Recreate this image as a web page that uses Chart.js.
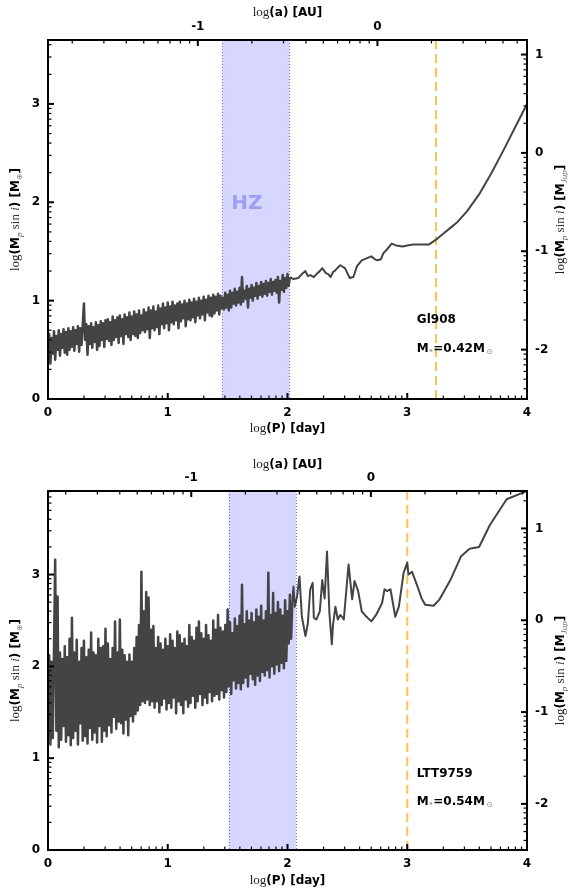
<!DOCTYPE html>
<html><head><meta charset="utf-8">
<script src="https://cdn.jsdelivr.net/npm/chart.js@4.4.1/dist/chart.umd.min.js"></script>
<style>
body{margin:0;background:#fff;width:568px;height:892px;overflow:hidden;position:relative}
.w{position:absolute;left:0;width:568px;height:446px}
</style></head><body>
<div class="w" style="top:0"><canvas id="c1" width="568" height="446"></canvas></div>
<div class="w" style="top:446px"><canvas id="c2" width="568" height="446"></canvas></div>
<script>
// ---- shared period grid of the densely sampled part (log P [day]) ----
const gridLogP = [
0.00,0.01,0.02,0.03,0.04,0.05,0.06,0.07,0.08,0.09,
0.10,0.11,0.12,0.13,0.14,0.15,0.16,0.17,0.18,0.19,
0.20,0.21,0.22,0.23,0.24,0.25,0.26,0.27,0.28,0.29,
0.30,0.31,0.32,0.33,0.34,0.35,0.36,0.37,0.38,0.39,
0.40,0.41,0.42,0.43,0.44,0.45,0.46,0.47,0.48,0.49,
0.50,0.51,0.52,0.53,0.54,0.55,0.56,0.57,0.58,0.59,
0.60,0.61,0.62,0.63,0.64,0.65,0.66,0.67,0.68,0.69,
0.70,0.71,0.72,0.73,0.74,0.75,0.76,0.77,0.78,0.79,
0.80,0.81,0.82,0.83,0.84,0.85,0.86,0.87,0.88,0.89,
0.90,0.91,0.92,0.93,0.94,0.95,0.96,0.97,0.98,0.99,
1.00,1.01,1.02,1.03,1.04,1.05,1.06,1.07,1.08,1.09,
1.10,1.11,1.12,1.13,1.14,1.15,1.16,1.17,1.18,1.19,
1.20,1.21,1.22,1.23,1.24,1.25,1.26,1.27,1.28,1.29,
1.30,1.31,1.32,1.33,1.34,1.35,1.36,1.37,1.38,1.39,
1.40,1.41,1.42,1.43,1.44,1.45,1.46,1.47,1.48,1.49,
1.50,1.51,1.52,1.53,1.54,1.55,1.56,1.57,1.58,1.59,
1.60,1.61,1.62,1.63,1.64,1.65,1.66,1.67,1.68,1.69,
1.70,1.71,1.72,1.73,1.74,1.75,1.76,1.77,1.78,1.79,
1.80,1.81,1.82,1.83,1.84,1.85,1.86,1.87,1.88,1.89,
1.90,1.91,1.92,1.93,1.94,1.95,1.96,1.97,1.98,1.99,
2.00,2.01,2.02,2.03,2.04];

// ---- Gl908: log(Mp sin i) [M_earth] ----
const gl908DenseM = [
0.42,0.66,0.36,0.62,0.46,0.69,0.40,0.64,0.50,0.70,
0.44,0.66,0.52,0.71,0.47,0.68,0.45,0.72,0.50,0.69,
0.53,0.73,0.49,0.70,0.56,0.74,0.48,0.72,0.55,0.75,
0.97,0.60,0.76,0.45,0.74,0.56,0.77,0.52,0.73,0.58,
0.78,0.50,0.75,0.54,0.79,0.60,0.77,0.53,0.80,0.61,
0.81,0.59,0.78,0.55,0.84,0.60,0.80,0.63,0.83,0.57,
0.85,0.64,0.81,0.56,0.86,0.66,0.83,0.63,0.88,0.60,
0.84,0.66,0.89,0.64,0.86,0.62,0.90,0.67,0.85,0.70,
0.91,0.68,0.88,0.71,0.93,0.62,0.90,0.72,0.94,0.70,
0.89,0.73,0.95,0.66,0.92,0.76,0.97,0.72,0.93,0.77,
0.98,0.70,0.94,0.78,0.99,0.76,0.95,0.80,0.97,0.72,
0.99,0.79,0.96,0.82,1.00,0.74,0.97,0.81,1.01,0.80,
0.98,0.83,1.02,0.78,0.99,0.85,1.03,0.82,1.00,0.86,
1.04,0.80,1.01,0.88,1.05,0.85,1.03,0.84,1.06,0.87,
1.04,0.90,1.07,0.86,1.05,0.92,1.03,0.91,1.08,0.93,
1.06,0.90,1.10,0.93,1.08,0.97,1.12,0.95,1.09,0.98,
1.13,0.96,1.24,0.99,1.10,1.02,1.15,0.93,1.12,1.03,
1.16,1.00,1.13,1.05,1.18,1.02,1.15,1.06,1.19,1.04,
1.17,1.07,1.20,1.05,1.18,1.09,1.22,1.06,1.19,1.10,
1.21,1.08,1.24,0.98,1.20,1.11,1.26,1.09,1.23,1.13,
1.27,1.15,1.24];
const gl908TailP = [2.05,2.09,2.12,2.15,2.17,2.19,2.22,2.25,2.27,2.29,2.32,2.34,2.36,2.38,2.40,2.44,2.48,2.50,2.52,2.55,2.58,2.62,2.66,2.70,2.73,2.75,2.78,2.80,2.83,2.87,2.91,2.96,3.00,3.05,3.11,3.18,3.24,3.30,3.36,3.42,3.50,3.60,3.70,3.80,3.90,4.00];
const gl908TailM = [1.22,1.23,1.27,1.30,1.25,1.26,1.24,1.28,1.30,1.33,1.28,1.27,1.24,1.29,1.31,1.36,1.33,1.28,1.23,1.24,1.35,1.41,1.43,1.45,1.42,1.41,1.42,1.48,1.52,1.58,1.56,1.55,1.56,1.57,1.57,1.57,1.62,1.68,1.74,1.80,1.91,2.08,2.29,2.52,2.76,3.00];

// ---- LTT9759: log(Mp sin i) [M_earth] ----
const ltt9759DenseM = [
1.45,2.12,1.15,2.05,1.22,2.18,3.16,1.30,2.76,1.12,
2.15,1.20,2.08,1.35,2.22,1.18,2.10,1.25,2.30,1.14,
2.53,1.22,2.15,1.30,2.29,1.15,2.05,1.38,2.20,1.19,
2.28,1.24,2.10,1.16,2.18,1.33,2.37,1.20,2.15,1.28,
2.12,1.17,2.30,1.35,2.20,1.18,2.22,1.30,2.41,1.24,
2.25,1.36,2.08,1.28,2.20,1.45,2.49,1.32,2.15,1.40,
2.51,1.38,2.18,1.27,2.12,1.42,2.05,1.25,2.13,1.46,
2.05,1.40,2.20,1.48,2.32,1.52,2.45,1.58,3.03,1.62,
2.60,1.60,2.81,1.64,2.75,1.58,2.40,1.62,2.44,1.55,
2.20,1.62,2.32,1.50,2.25,1.58,2.18,1.65,2.30,1.53,
2.22,1.60,2.35,1.55,2.28,1.66,2.20,1.49,2.38,1.62,
2.34,1.58,2.25,1.49,2.30,1.64,2.22,1.56,2.45,1.60,
2.32,1.68,2.28,1.55,2.42,1.62,2.49,1.70,2.36,1.58,
2.30,1.66,2.45,1.60,2.34,1.72,2.28,1.62,2.50,1.68,
2.40,1.70,2.56,1.64,2.42,1.74,2.38,1.66,2.45,1.72,
2.62,1.78,2.48,1.70,2.36,1.85,2.52,1.76,2.44,1.82,
2.55,1.75,2.89,1.82,2.46,1.88,2.60,1.78,2.50,1.92,
2.58,1.86,2.48,1.80,2.62,1.90,2.54,1.84,2.66,1.94,
2.50,1.90,2.60,1.96,3.02,1.88,2.56,2.00,2.80,1.92,
2.58,2.02,2.70,1.95,2.62,2.04,2.55,1.98,2.72,2.06,
2.60,2.25,2.78,2.30,2.70];
const ltt9759TailP = [2.05,2.06,2.08,2.10,2.12,2.15,2.17,2.19,2.21,2.22,2.24,2.27,2.29,2.31,2.33,2.35,2.37,2.38,2.40,2.42,2.44,2.46,2.47,2.51,2.54,2.56,2.59,2.62,2.66,2.70,2.74,2.79,2.81,2.83,2.86,2.90,2.93,2.97,3.00,3.01,3.04,3.08,3.12,3.15,3.22,3.27,3.33,3.36,3.45,3.52,3.60,3.69,3.83,4.00];
const ltt9759TailM = [2.87,2.65,2.76,2.98,2.54,2.33,2.47,2.84,2.91,2.53,2.51,2.60,2.94,2.74,3.25,2.58,2.24,2.45,2.65,2.51,2.56,2.53,2.51,3.11,2.73,2.93,2.82,2.60,2.54,2.49,2.56,2.69,2.84,2.82,2.84,2.54,2.65,3.02,3.13,3.00,3.03,2.89,2.74,2.67,2.66,2.73,2.87,2.94,3.20,3.28,3.30,3.54,3.82,3.91];

// ---- per-star constants ----
const starNames = ['Gl908', 'LTT9759'];
const starMasses = ['0.42', '0.54'];           // M_sun
const hzRanges = [[1.455, 2.015], [1.508, 2.07]]; // log P [day]
const snowLines = [3.24, 3.00];                   // log P [day]
const yMaxes = [3.65, 3.91];
const xTickLabels = [0, 1, 2, 3, 4];
const yTickLabels = [0, 1, 2, 3];
const jupTickLabels = [-2, -1, 0, 1];
const auTickLabels = [-1, 0];

const LOG_MJUP = 2.5022;   // log10(M_jup / M_earth)
const LOG_YEAR = 2.56259;  // log10(365.25)

Chart.defaults.font.family = '"DejaVu Sans"';
const BOLD = 'bold 12px "DejaVu Sans"';
const SER = '13px "Liberation Serif"';

function rich(ctx, parts, cx, cy, rot) {
  ctx.save();
  ctx.translate(cx, cy);
  if (rot) ctx.rotate(rot);
  ctx.textBaseline = 'alphabetic'; ctx.textAlign = 'left';
  let w = 0;
  for (const p of parts) { ctx.font = p.f; w += ctx.measureText(p.t).width; }
  let xx = -w / 2;
  for (const p of parts) {
    ctx.font = p.f; ctx.fillStyle = p.c || '#000';
    ctx.fillText(p.t, xx, 4 + (p.dy || 0));
    xx += ctx.measureText(p.t).width;
  }
  ctx.restore();
}

function drawTicks(ctx, s, side, a) {
  const lo = Math.min(s.min, s.max), hi = Math.max(s.min, s.max);
  for (let n = Math.floor(lo) - 1; n <= Math.ceil(hi); n++) {
    for (let k = 1; k <= 9; k++) {
      const v = n + Math.log10(k);
      if (v <= lo + 1e-6 || v >= hi - 1e-6) continue;
      const major = k === 1, len = major ? 6 : 3.5;
      const p = s.getPixelForValue(v);
      ctx.lineWidth = major ? 2 : 1.2;
      ctx.beginPath();
      if (side === 'bottom') { ctx.moveTo(p, a.bottom); ctx.lineTo(p, a.bottom - len); }
      if (side === 'top') { ctx.moveTo(p, a.top); ctx.lineTo(p, a.top + len); }
      if (side === 'left') { ctx.moveTo(a.left, p); ctx.lineTo(a.left + len, p); }
      if (side === 'right') { ctx.moveTo(a.right, p); ctx.lineTo(a.right - len, p); }
      ctx.stroke();
    }
  }
}

function makeDeco(o) {
  return {
    id: 'deco',
    beforeDatasetsDraw(chart) {
      const {ctx, chartArea: a, scales: {x, y}} = chart;
      ctx.save();
      const h1 = x.getPixelForValue(o.hz[0]), h2 = x.getPixelForValue(o.hz[1]);
      ctx.fillStyle = 'rgb(214,214,255)';
      ctx.fillRect(h1, a.top, h2 - h1, a.bottom - a.top);
      ctx.strokeStyle = 'rgb(105,105,250)'; ctx.lineWidth = 1; ctx.setLineDash([1, 2]);
      for (const px of [h1, h2]) {
        ctx.beginPath(); ctx.moveTo(Math.round(px) + 0.5, a.top); ctx.lineTo(Math.round(px) + 0.5, a.bottom); ctx.stroke();
      }
      ctx.setLineDash([]);
      ctx.font = 'bold 20px "DejaVu Sans"'; ctx.fillStyle = 'rgb(158,158,248)';
      ctx.textBaseline = 'middle'; ctx.textAlign = 'left';
      ctx.fillText('HZ', x.getPixelForValue(o.hzText[0]), y.getPixelForValue(o.hzText[1]));
      const sx = x.getPixelForValue(o.snow);
      ctx.strokeStyle = '#ffc34f'; ctx.lineWidth = 2; ctx.setLineDash([9, 5]);
      ctx.beginPath(); ctx.moveTo(sx, a.top); ctx.lineTo(sx, a.bottom); ctx.stroke();
      ctx.restore();
    },
    afterDatasetsDraw(chart) {
      const {ctx, chartArea: a, scales} = chart;
      ctx.save();
      ctx.strokeStyle = '#000'; ctx.lineWidth = 2;
      ctx.strokeRect(a.left, a.top, a.right - a.left, a.bottom - a.top);
      drawTicks(ctx, scales.x, 'bottom', a);
      drawTicks(ctx, scales.x2, 'top', a);
      drawTicks(ctx, scales.y, 'left', a);
      drawTicks(ctx, scales.y2, 'right', a);
      // star labels
      const tx = scales.x.getPixelForValue(o.labelX);
      ctx.textAlign = 'left'; ctx.textBaseline = 'alphabetic';
      ctx.font = BOLD; ctx.fillStyle = '#000';
      ctx.fillText(o.name, tx, scales.y.getPixelForValue(o.nameY) + 4);
      let bx = tx; const by = scales.y.getPixelForValue(o.massY) + 4;
      ctx.fillText('M', bx, by); bx += ctx.measureText('M').width;
      ctx.font = '7px "DejaVu Sans"'; ctx.fillStyle = '#666';
      ctx.fillText('*', bx + 0.5, by + 2); bx += ctx.measureText('*').width + 1;
      ctx.font = BOLD; ctx.fillStyle = '#000';
      const t = '=' + o.mass + 'M';
      ctx.fillText(t, bx, by); bx += ctx.measureText(t).width;
      ctx.font = '8px "DejaVu Sans"'; ctx.fillStyle = '#888';
      ctx.fillText('\u2299', bx + 1.5, by + 2);
      // axis titles
      const cx = (a.left + a.right) / 2, cy = (a.top + a.bottom) / 2;
      rich(ctx, [{t: 'log', f: SER, c: '#222'}, {t: '(P) [day]', f: BOLD}], cx, o.bottomTitleY);
      rich(ctx, [{t: 'log', f: SER, c: '#222'}, {t: '(a) [AU]', f: BOLD}], cx, o.topTitleY);
      rich(ctx, [{t: 'log', f: SER, c: '#222'}, {t: '(M', f: BOLD},
        {t: 'p', f: 'italic 9px "Liberation Serif"', dy: 3, c: '#555'},
        {t: ' sin ', f: SER, c: '#333'}, {t: 'i', f: 'italic 13px "Liberation Serif"', c: '#333'},
        {t: ') [M', f: BOLD}, {t: '\u2295', f: '8px "DejaVu Sans"', dy: 3, c: '#888'}, {t: ']', f: BOLD}],
        15, cy, -Math.PI / 2);
      rich(ctx, [{t: 'log', f: SER, c: '#222'}, {t: '(M', f: BOLD},
        {t: 'p', f: 'italic 9px "Liberation Serif"', dy: 3, c: '#555'},
        {t: ' sin ', f: SER, c: '#333'}, {t: 'i', f: 'italic 13px "Liberation Serif"', c: '#333'},
        {t: ') [M', f: BOLD}, {t: 'Jup', f: 'italic 9px "Liberation Serif"', dy: 3, c: '#666'}, {t: ']', f: BOLD}],
        560, cy, -Math.PI / 2);
      ctx.restore();
    }
  };
}

function makeChart(id, o) {
  const n = o.denseM.length;
  const dense = o.denseM.map((m, i) => ({x: gridLogP[i], y: m}));
  const tail = [dense[n - 1]].concat(o.tailP.map((p, i) => ({x: p, y: o.tailM[i]})));
  const toA = p => (2 * (p - LOG_YEAR) + Math.log10(parseFloat(o.mass))) / 3;
  const tickFont = {family: '"DejaVu Sans"', size: 12, weight: 'bold'};
  const common = {grid: {display: false, drawTicks: false}, border: {display: false}};
  const ds = (data, w) => ({data, borderColor: '#444444', borderWidth: w, borderJoinStyle: 'round', pointRadius: 0, tension: 0, fill: false, xAxisID: 'x', yAxisID: 'y'});
  new Chart(document.getElementById(id), {
    type: 'line',
    data: {datasets: [ds(dense, 2.5), ds(tail, 2)]},
    options: {
      responsive: false, animation: false, devicePixelRatio: 1, events: [],
      layout: {padding: 0},
      plugins: {legend: {display: false}, tooltip: {enabled: false}},
      scales: {
        x: {...common, type: 'linear', position: 'bottom', min: 0, max: 4,
          afterFit: s => { s.height = o.bottomH; },
          afterBuildTicks: s => { s.ticks = xTickLabels.map(v => ({value: v})); },
          ticks: {font: tickFont, color: '#000', padding: 6.5, maxRotation: 0, autoSkip: false, callback: v => String(v)}},
        x2: {...common, type: 'linear', position: 'top', min: toA(0), max: toA(4),
          afterFit: s => { s.height = o.topH; },
          afterBuildTicks: s => { s.ticks = auTickLabels.map(v => ({value: v})); },
          ticks: {font: tickFont, color: '#000', padding: 6, maxRotation: 0, autoSkip: false, callback: v => String(v)}},
        y: {...common, type: 'linear', position: 'left', min: 0, max: o.yMax,
          afterFit: s => { s.width = 48; },
          afterBuildTicks: s => { s.ticks = yTickLabels.map(v => ({value: v})); },
          ticks: {font: tickFont, color: '#000', padding: 8, autoSkip: false, callback: v => String(v)}},
        y2: {...common, type: 'linear', position: 'right', min: -LOG_MJUP, max: o.yMax - LOG_MJUP,
          afterFit: s => { s.width = 41; },
          afterBuildTicks: s => { s.ticks = jupTickLabels.map(v => ({value: v})); },
          ticks: {font: tickFont, color: '#000', padding: 8, autoSkip: false, callback: v => String(v)}}
      }
    },
    plugins: [makeDeco(o)]
  });
}

makeChart('c1', {denseM: gl908DenseM, tailP: gl908TailP, tailM: gl908TailM, name: starNames[0], mass: starMasses[0],
  hz: hzRanges[0], hzText: [1.53, 1.98], snow: snowLines[0], yMax: yMaxes[0], labelX: 3.08, nameY: 0.81, massY: 0.52,
  topH: 40, bottomH: 47, topTitleY: 12, bottomTitleY: 428});
makeChart('c2', {denseM: ltt9759DenseM, tailP: ltt9759TailP, tailM: ltt9759TailM, name: starNames[1], mass: starMasses[1],
  hz: hzRanges[1], hzText: [1.58, 2.0], snow: snowLines[1], yMax: yMaxes[1], labelX: 3.08, nameY: 0.84, massY: 0.53,
  topH: 45, bottomH: 42, topTitleY: 18, bottomTitleY: 434});
</script>
</body></html>
